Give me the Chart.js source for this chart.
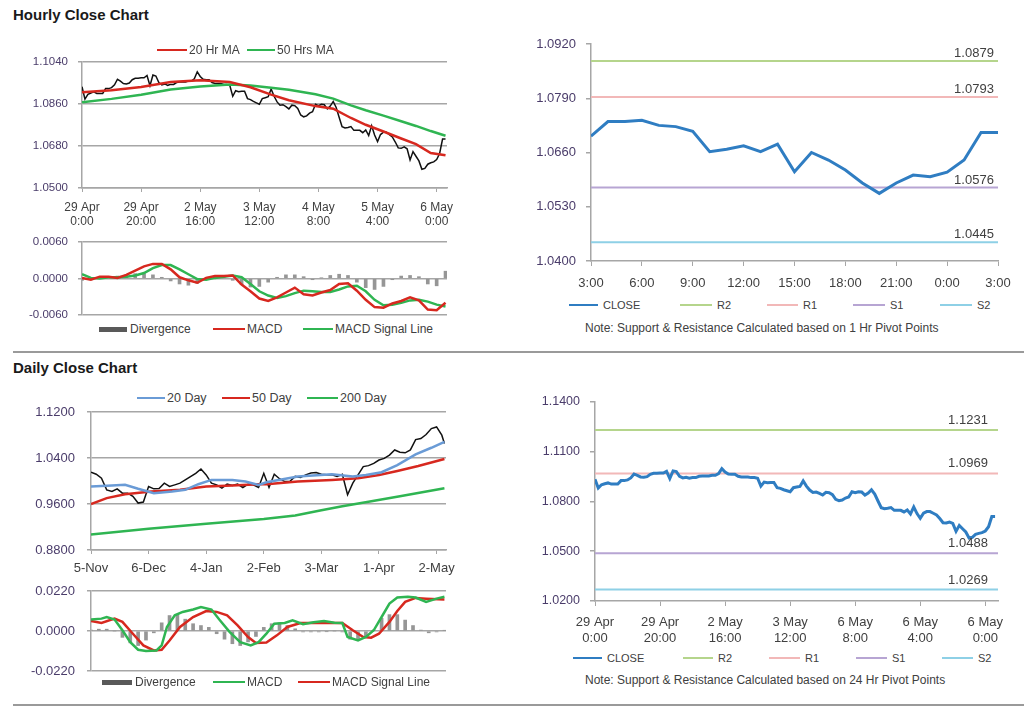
<!DOCTYPE html>
<html>
<head>
<meta charset="utf-8">
<script src="https://cdn.jsdelivr.net/npm/chart.js@4.4.1/dist/chart.umd.min.js"></script>
<style>
body { margin: 0; background: #fff; font-family: "Liberation Sans", Arial, sans-serif; color: #404040; }
#page { position: relative; width: 1024px; height: 706px; overflow: hidden; }
canvas { position: absolute; }
.title { position: absolute; font-weight: bold; font-size: 15px; line-height: 17px; color: #1a1a1a; }
.rule { position: absolute; height: 2px; background: #9a9a9a; }
.leg { position: absolute; font-size: 12px; line-height: 14px; white-space: nowrap; display: flex; align-items: center; }
.leg i { display: inline-block; height: 2px; margin-right: 2px; }
.leg.sm { font-size: 11px; }
.leg.sm i { margin-right: 5px; height: 1.5px; }
.note { position: absolute; font-size: 12px; line-height: 14px; white-space: nowrap; }
</style>
</head>
<body>
<div id="page">
  <div class="title" style="left:13px;top:6px">Hourly Close Chart</div>
  <div class="title" style="left:13px;top:359px">Daily Close Chart</div>
  <div class="rule" style="left:13px;top:351px;width:1011px"></div>
  <div class="rule" style="left:13px;top:704px;width:1011px"></div>

  <canvas id="hourPrice" width="450" height="180" style="left:10px;top:56px"></canvas>
  <canvas id="hourMacd" width="450" height="84" style="left:10px;top:236px"></canvas>
  <canvas id="pivot1" width="495" height="265" style="left:520px;top:30px"></canvas>
  <canvas id="dayPrice" width="450" height="175" style="left:10px;top:405px"></canvas>
  <canvas id="dayMacd" width="450" height="93" style="left:10px;top:583px"></canvas>
  <canvas id="pivot24" width="495" height="255" style="left:520px;top:390px"></canvas>

  <div class="leg" style="left:157px;top:43px"><i style="width:30px;background:#d7281f"></i>20 Hr MA</div>
  <div class="leg" style="left:247px;top:43px"><i style="width:28px;background:#2fb552"></i>50 Hrs MA</div>

  <div class="leg" style="left:99px;top:322px"><i style="width:28px;height:5px;background:#595959;margin-right:3px"></i>Divergence</div>
  <div class="leg" style="left:213px;top:322px"><i style="width:32px;background:#d7281f"></i>MACD</div>
  <div class="leg" style="left:303px;top:322px"><i style="width:30px;background:#2fb552"></i>MACD Signal Line</div>

  <div class="leg sm" style="left:569px;top:298px"><i style="width:29px;height:2.5px;background:#2f7dc2"></i>CLOSE</div>
  <div class="leg sm" style="left:680px;top:298px"><i style="width:32px;background:#b5d58c"></i>R2</div>
  <div class="leg sm" style="left:767px;top:298px"><i style="width:31px;background:#f2b8b8"></i>R1</div>
  <div class="leg sm" style="left:853px;top:298px"><i style="width:32px;background:#b7a5d3"></i>S1</div>
  <div class="leg sm" style="left:940px;top:298px"><i style="width:32px;background:#8ed0e6"></i>S2</div>
  <div class="note" style="left:585px;top:321px">Note: Support &amp; Resistance Calculated based on 1 Hr Pivot Points</div>

  <div class="leg" style="left:137px;top:391px;font-size:12.5px"><i style="width:28px;background:#6a9bd6"></i>20 Day</div>
  <div class="leg" style="left:222px;top:391px;font-size:12.5px"><i style="width:28px;background:#d7281f"></i>50 Day</div>
  <div class="leg" style="left:307px;top:391px;font-size:12.5px"><i style="width:31px;background:#2fb552"></i>200 Day</div>

  <div class="leg" style="left:102px;top:675px"><i style="width:30px;height:5px;background:#595959;margin-right:3px"></i>Divergence</div>
  <div class="leg" style="left:213px;top:675px"><i style="width:32px;background:#2fb552"></i>MACD</div>
  <div class="leg" style="left:298px;top:675px"><i style="width:32px;background:#d7281f"></i>MACD Signal Line</div>

  <div class="leg sm" style="left:573px;top:651px"><i style="width:29px;height:2.5px;background:#2f7dc2"></i>CLOSE</div>
  <div class="leg sm" style="left:683px;top:651px"><i style="width:30px;background:#b5d58c"></i>R2</div>
  <div class="leg sm" style="left:769px;top:651px"><i style="width:31px;background:#f2b8b8"></i>R1</div>
  <div class="leg sm" style="left:856px;top:651px"><i style="width:31px;background:#b7a5d3"></i>S1</div>
  <div class="leg sm" style="left:942px;top:651px"><i style="width:31px;background:#8ed0e6"></i>S2</div>
  <div class="note" style="left:585px;top:673px">Note: Support &amp; Resistance Calculated based on 24 Hr Pivot Points</div>
</div>
<script>
// ---- hourly data (one value per hour, 29 Apr 0:00 onwards)
const hourTicks = [0, 20, 40, 60, 80, 100, 120];
const hourTickLabels = [['29 Apr', '0:00'], ['29 Apr', '20:00'], ['2 May', '16:00'], ['3 May', '12:00'], ['4 May', '8:00'], ['5 May', '4:00'], ['6 May', '0:00']];
const pivot24TickLabels = [['29 Apr', '0:00'], ['29 Apr', '20:00'], ['2 May', '16:00'], ['3 May', '12:00'], ['6 May', '8:00'], ['6 May', '4:00'], ['6 May', '0:00']];

const hourlyClose = [
  1.0934, 1.0881, 1.0901, 1.0907, 1.0912, 1.0905, 1.0905, 1.0905, 1.0926, 1.0926,
  1.0930, 1.0942, 1.0966, 1.0958, 1.0948, 1.0946, 1.0950, 1.0964, 1.0970, 1.0970,
  1.0972, 1.0972, 1.0982, 1.0938, 1.0984, 1.0980, 1.0952, 1.0942, 1.0946, 1.0940,
  1.0944, 1.0944, 1.0952, 1.0954, 1.0954, 1.0954, 1.0958, 1.0958, 1.0968, 1.0998,
  1.0978, 1.0966, 1.0964, 1.0964, 1.0952, 1.0948, 1.0948, 1.0948, 1.0944, 1.0944,
  1.0940, 1.0893, 1.0917, 1.0913, 1.0915, 1.0915, 1.0883, 1.0879, 1.0871, 1.0865,
  1.0859, 1.0883, 1.0887, 1.0891, 1.0924, 1.0893, 1.0869, 1.0855, 1.0857, 1.0849,
  1.0839, 1.0855, 1.0853, 1.0841, 1.0813, 1.0805, 1.0809, 1.0821, 1.0827, 1.0859,
  1.0853, 1.0859, 1.0857, 1.0839, 1.0851, 1.0871, 1.0845, 1.0803, 1.0763, 1.0757,
  1.0759, 1.0763, 1.0747, 1.0747, 1.0747, 1.0737, 1.0749, 1.0725, 1.0767, 1.0727,
  1.0699, 1.0729, 1.0739, 1.0739, 1.0729, 1.0719, 1.0697, 1.0672, 1.0670, 1.0676,
  1.0668, 1.0620, 1.0656, 1.0636, 1.0616, 1.0580, 1.0584, 1.0602, 1.0608, 1.0612,
  1.0622, 1.0648, 1.0710, 1.0710
];

const maHours = [0, 10, 20, 30, 40, 50, 57, 64, 70, 79, 85, 91, 96, 102, 108, 113, 118, 123];
const ma20Hr = [1.0910, 1.0919, 1.0933, 1.0954, 1.0962, 1.0954, 1.0932, 1.0900, 1.0876, 1.0851, 1.0840, 1.0800, 1.0771, 1.0742, 1.0712, 1.0688, 1.0650, 1.0640];
const ma50Hr = [1.0867, 1.0882, 1.0900, 1.0922, 1.0935, 1.0944, 1.0939, 1.0930, 1.0921, 1.0902, 1.0883, 1.0854, 1.0833, 1.0810, 1.0786, 1.0766, 1.0744, 1.0724];

const macdHours = [0, 3, 6, 9, 12, 15, 18, 21, 24, 27, 30, 33, 36, 39, 42, 45, 48, 51, 54, 57, 60, 63, 66, 69, 72, 75, 78, 81, 84, 87, 90, 93, 96, 99, 102, 105, 108, 111, 114, 117, 120, 123];
const macdHourly = [
  0.0001, -0.0002, 0.0003, 0.0003, 0.0001, 0.0006, 0.0013, 0.0020, 0.0024, 0.0024,
  0.0015, 0.0002, -0.0003, -0.0007, 0.0001, 0.0004, 0.0004, 0.0005, -0.0010, -0.0021,
  -0.0033, -0.0037, -0.0031, -0.0023, -0.0015, -0.0026, -0.0028, -0.0023, -0.0019, -0.0009,
  -0.0008, -0.0020, -0.0035, -0.0047, -0.0048, -0.0041, -0.0037, -0.0031, -0.0036, -0.0051,
  -0.0052, -0.0040
];
const signalHourly = [
  0.0007, 0.0001, 0.0000, 0.0002, 0.0002, 0.0003, 0.0005, 0.0009, 0.0017, 0.0022,
  0.0022, 0.0015, 0.0007, -0.0001, -0.0002, 0.0001, 0.0003, 0.0005, 0.0002, -0.0009,
  -0.0021, -0.0028, -0.0032, -0.0029, -0.0024, -0.0020, -0.0021, -0.0022, -0.0022, -0.0018,
  -0.0013, -0.0012, -0.0021, -0.0035, -0.0044, -0.0043, -0.0040, -0.0036, -0.0035, -0.0038,
  -0.0043, -0.0046
];
const divergenceHourly = [
  -0.0003, -0.0002, 0.0002, 0.0002, 0.0004, 0.0006, 0.0008, 0.0008, 0.0006, 0.0002,
  -0.0004, -0.0009, -0.0011, -0.0008, -0.0002, 0.0001, 0.0001, -0.0003, -0.0010, -0.0014,
  -0.0013, -0.0006, 0.0002, 0.0006, 0.0006, 0.0003, -0.0002, 0.0001, 0.0005, 0.0007,
  0.0005, -0.0006, -0.0015, -0.0018, -0.0013, -0.0002, 0.0004, 0.0005, 0.0003, -0.0009,
  -0.0012, 0.0012
];

// ---- last 24 hours with 1 hr pivots
const pivotHourTicks = [0, 3, 6, 9, 12, 15, 18, 21, 24];
const pivotHourLabels = ['3:00', '6:00', '9:00', '12:00', '15:00', '18:00', '21:00', '0:00', '3:00'];
const last24Close = [1.0699, 1.0734, 1.0734, 1.0737, 1.0725, 1.0722, 1.0711, 1.0662, 1.0668, 1.0676, 1.0662, 1.0680, 1.0614,
  1.0660, 1.0642, 1.0618, 1.0587, 1.0562, 1.0587, 1.0606, 1.0602, 1.0613, 1.0642, 1.0708, 1.0708];
const pivotNames = ['R2', 'R1', 'S1', 'S2'];
const pivot1Hr = [1.0879, 1.0793, 1.0576, 1.0445];
const pivot24Hr = [1.1231, 1.0969, 1.0488, 1.0269];

// ---- daily data (x = trading day number from 5-Nov)
const dayTicks = [0, 22, 44, 66, 88, 110, 132];
const dayTickLabels = ['5-Nov', '6-Dec', '4-Jan', '2-Feb', '3-Mar', '1-Apr', '2-May'];
const dayIdx = [0, 2, 4, 6, 8, 10, 12, 14, 16, 18, 20, 22, 24, 26, 28, 30, 32, 34, 36, 38, 40, 42, 44, 46, 48, 50, 52, 54, 56, 58, 60, 62, 64, 66,
  68, 70, 72, 74, 76, 78, 80, 82, 84, 86, 88, 90, 92, 94, 96, 98, 100, 102, 104, 106, 108, 110, 112, 114, 116, 118, 120, 122, 124, 126, 128, 130, 132, 134, 135];
const dailyClose = [
  1.0152, 1.0117, 1.0048, 0.9846, 0.9817, 0.9864, 0.9789, 0.9789, 0.9732, 0.9616, 0.9634, 0.9905, 0.9864, 0.9870, 0.9962, 0.9905, 0.9933,
  0.9962, 1.0020, 1.0077, 1.0134, 1.0209, 1.0106, 0.9962, 0.9933, 0.9876, 0.9945, 0.9922, 0.9945, 0.9887, 0.9945, 0.9933, 0.9887, 1.0134,
  0.9887, 1.0117, 1.0040, 0.9990, 0.9995, 1.0080, 1.0060, 1.0106, 1.0140, 1.0146, 1.0117, 1.0110, 1.0106, 1.0077, 1.0117, 0.9760, 0.9962,
  1.0106, 1.0250, 1.0267, 1.0307, 1.0365, 1.0394, 1.0451, 1.0540, 1.0500, 1.0490, 1.0540, 1.0720, 1.0739, 1.0808, 1.0912, 1.0940, 1.0797, 1.0653
];
const ma20Idx = [0, 8, 13, 18, 24, 31, 36, 41, 46, 54, 59, 64, 67, 79, 92, 100, 105, 111, 117, 124, 130, 135];
const ma20Day = [0.9904, 0.9921, 0.9933, 0.9864, 0.9789, 0.9817, 0.9846, 0.9944, 1.0019, 1.0019, 0.9990, 0.9933, 0.9979, 1.0080, 1.0117, 1.0077, 1.0106, 1.0152, 1.0278, 1.0463, 1.0578, 1.0682];
const ma50Idx = [0, 6, 13, 23, 34, 44, 54, 64, 67, 79, 92, 102, 110, 117, 125, 135];
const ma50Day = [0.9599, 0.9702, 0.9771, 0.9817, 0.9846, 0.9904, 0.9921, 0.9944, 0.9944, 0.9990, 1.0019, 1.0048, 1.0106, 1.0175, 1.0261, 1.0382];
const ma200Idx = [0, 22, 44, 66, 78, 88, 96, 106, 118, 135];
const ma200Day = [0.9070, 0.9170, 0.9255, 0.9340, 0.9400, 0.9490, 0.9560, 0.9640, 0.9735, 0.9875];

const macdDayIdx = [0, 4, 6, 9, 12, 15, 18, 21, 25, 27, 29, 32, 35, 39, 42, 46, 49, 53, 57, 61, 64, 67, 70, 74, 77, 81, 85, 89, 93, 96, 98, 102, 105, 108, 111, 114, 117, 121, 124, 128, 132, 135];
const macdDaily = [
  0.0063, 0.0068, 0.0077, 0.0063, 0.0004, -0.0061, -0.0103, -0.0110, -0.0107, -0.0079,
  0.0022, 0.0086, 0.0105, 0.0118, 0.0132, 0.0118, 0.0063, -0.0006, -0.0061, -0.0079,
  -0.0061, -0.0015, 0.0040, 0.0044, 0.0059, 0.0037, 0.0048, 0.0055, 0.0046, 0.0044,
  -0.0033, -0.0052, -0.0033, 0.0004, 0.0077, 0.0151, 0.0184, 0.0188, 0.0184, 0.0160,
  0.0178, 0.0188
];
const signalDayIdx = [0, 4, 9, 12, 16, 20, 24, 27, 30, 34, 39, 44, 48, 52, 56, 60, 63, 67, 71, 75, 80, 86, 93, 96, 100, 104, 107, 110, 114, 117, 120, 124, 128, 135];
const signalDaily = [
  0.0055, 0.0044, 0.0068, 0.0050, -0.0015, -0.0079, -0.0107, -0.0103, -0.0052, 0.0022,
  0.0077, 0.0110, 0.0105, 0.0086, 0.0031, -0.0033, -0.0066, -0.0063, -0.0024, 0.0022,
  0.0044, 0.0044, 0.0044, 0.0044, 0.0004, -0.0033, -0.0037, -0.0015, 0.0050, 0.0110,
  0.0160, 0.0182, 0.0178, 0.0173
];
const divDayIdx = [0, 3, 6, 9, 12, 15, 18, 21, 24, 27, 30, 33, 36, 39, 42, 45, 48, 51, 54, 57, 60, 63, 66, 69, 72, 75, 78, 81, 84, 87,
  90, 93, 96, 99, 102, 105, 108, 111, 114, 117, 120, 123, 126, 129, 132, 135];
const divergenceDaily = [
  0.0005, 0.0010, 0.0010, 0.0000, -0.0035, -0.0065, -0.0080, -0.0050, -0.0010, 0.0045,
  0.0085, 0.0090, 0.0065, 0.0040, 0.0030, 0.0020, -0.0015, -0.0045, -0.0070, -0.0080,
  -0.0060, -0.0030, 0.0020, 0.0040, 0.0045, 0.0030, 0.0012, -0.0005, -0.0005, -0.0005,
  -0.0003, 0.0000, -0.0005, -0.0045, -0.0050, -0.0030, 0.0005, 0.0070, 0.0090, 0.0090,
  0.0060, 0.0030, 0.0005, -0.0010, -0.0005, 0.0003
];

// ---- styling
const FONT = '"Liberation Sans", Arial, sans-serif';
const GRID = '#a6a6a6';
const RED = '#d7281f', GREEN = '#2fb552', BLUE = '#2f7dc2', LIGHTBLUE = '#6a9bd6';
const pivotColors = ['#b5d58c', '#f2b8b8', '#b7a5d3', '#8ed0e6'];

function pts(xs, ys) {
  return ys.map((y, i) => ({ x: xs[i], y: y }));
}
function line(data, color, width) {
  return { type: 'line', data: data, borderColor: color, borderWidth: width, pointRadius: 0, tension: 0, fill: false };
}
function bars(data) {
  return { type: 'bar', data: data, backgroundColor: '#969696', barThickness: 3, order: 5 };
}

// axes get a fixed size and no automatic label padding, so the plot boxes land where the picture has them
function yAxis(min, max, ticks, width, size, tl, pad, onArea) {
  return {
    type: 'linear', min: min, max: max,
    afterBuildTicks: s => { s.ticks = ticks.map(v => ({ value: v })); },
    afterFit: s => { s.width = width; s.paddingTop = 0; s.paddingBottom = 0; },
    ticks: { color: '#4a3c6a', font: { family: FONT, size: size }, padding: pad, callback: v => v.toFixed(4) },
    grid: { color: GRID, tickColor: GRID, tickLength: tl, drawOnChartArea: onArea, lineWidth: 1.5 },
    border: { color: GRID, width: 1.5 }
  };
}
function xAxis(min, max, ticks, labels, height, size, tl, pad, lh) {
  return {
    type: 'linear', min: min, max: max, offset: false,
    afterBuildTicks: s => { s.ticks = ticks.map(v => ({ value: v })); },
    afterFit: s => { s.height = height; s.paddingLeft = 0; s.paddingRight = 0; },
    ticks: { color: '#404040', font: { family: FONT, size: size, lineHeight: lh }, padding: pad,
      autoSkip: false, maxRotation: 0, callback: (v, i) => labels[i] },
    grid: { color: GRID, tickColor: GRID, tickLength: tl, drawOnChartArea: false, offset: false },
    border: { color: GRID, width: 1.5 }
  };
}
function hiddenX(min, max) {
  return { type: 'linear', min: min, max: max, display: false, offset: false, grid: { offset: false } };
}

// text above each support / resistance line
const levelLabels = {
  id: 'levelLabels',
  afterDatasetsDraw(chart, args, opts) {
    if (!opts || !opts.values) return;
    const ctx = chart.ctx;
    ctx.save();
    ctx.font = '13px ' + FONT;
    ctx.fillStyle = '#404040';
    ctx.textAlign = 'center';
    ctx.textBaseline = 'alphabetic';
    opts.values.forEach(v => {
      ctx.fillText(v.toFixed(4), chart.chartArea.right - opts.dx, chart.scales.y.getPixelForValue(v) - opts.dy);
    });
    ctx.restore();
  }
};

function base(pad, scales, labels) {
  const plugins = { legend: { display: false }, tooltip: { enabled: false } };
  if (labels) plugins.levelLabels = labels;
  return {
    responsive: false, animation: false, devicePixelRatio: 1, events: [],
    layout: { padding: pad, autoPadding: false },
    plugins: plugins,
    scales: scales
  };
}

// Hourly close with moving averages
new Chart(document.getElementById('hourPrice'), {
  type: 'line',
  data: { datasets: [
    line(pts(maHours, ma20Hr), RED, 2.5),
    line(pts(maHours, ma50Hr), GREEN, 2.5),
    line(hourlyClose.map((y, i) => ({ x: i, y: y })), '#111111', 1.5)
  ] },
  options: base({ left: 0, right: 13, top: 6, bottom: 0 }, {
    x: xAxis(0, 123.5, hourTicks, hourTickLabels, 48, 12, 4, 9, 1.15),
    y: yAxis(1.05, 1.104, [1.05, 1.068, 1.086, 1.104], 72, 11.5, 4, 10, true)
  })
});

// Hourly MACD
new Chart(document.getElementById('hourMacd'), {
  type: 'line',
  data: { datasets: [
    line(pts(macdHours, macdHourly), RED, 2.5),
    line(pts(macdHours, signalHourly), GREEN, 2.5),
    bars(pts(macdHours, divergenceHourly))
  ] },
  options: base({ left: 0, right: 13, top: 6, bottom: 5 }, {
    x: hiddenX(0, 123.5),
    y: yAxis(-0.006, 0.006, [-0.006, 0, 0.006], 72, 11.5, 4, 10, true)
  })
});

// Last 24 hours, 1 hr pivots
new Chart(document.getElementById('pivot1'), {
  type: 'line',
  data: { datasets: [line(last24Close.map((y, i) => ({ x: i, y: y })), BLUE, 3)].concat(
    pivot1Hr.map((v, k) => Object.assign(line([{ x: 0, y: v }, { x: 24, y: v }], pivotColors[k], 2), { label: pivotNames[k] })))
  },
  options: base({ left: 0, right: 17, top: 14, bottom: 0 }, {
    x: xAxis(0, 24, pivotHourTicks, pivotHourLabels, 34, 13, 5, 10, 1.2),
    y: yAxis(1.04, 1.092, [1.04, 1.053, 1.066, 1.079, 1.092], 71, 13, 5, 10, false)
  }, { values: pivot1Hr, dx: 24, dy: 4 }),
  plugins: [levelLabels]
});

// Daily close with moving averages
new Chart(document.getElementById('dayPrice'), {
  type: 'line',
  data: { datasets: [
    line(pts(ma20Idx, ma20Day), LIGHTBLUE, 2.5),
    line(pts(ma50Idx, ma50Day), RED, 2.5),
    line(pts(ma200Idx, ma200Day), GREEN, 2.5),
    line(pts(dayIdx, dailyClose), '#111111', 1.5)
  ] },
  options: base({ left: 0, right: 14, top: 7, bottom: 0 }, {
    x: xAxis(0, 135.6, dayTicks, dayTickLabels, 30, 13, 4, 6.5, 1.2),
    y: yAxis(0.88, 1.12, [0.88, 0.96, 1.04, 1.12], 81, 13, 4, 12, true)
  })
});

// Daily MACD
new Chart(document.getElementById('dayMacd'), {
  type: 'line',
  data: { datasets: [
    line(pts(macdDayIdx, macdDaily), GREEN, 2.5),
    line(pts(signalDayIdx, signalDaily), RED, 2.5),
    bars(pts(divDayIdx, divergenceDaily))
  ] },
  options: base({ left: 0, right: 14, top: 8, bottom: 5 }, {
    x: hiddenX(0, 135.6),
    y: yAxis(-0.022, 0.022, [-0.022, 0, 0.022], 81, 13, 4, 12, true)
  })
});

// Hourly close, 24 hr pivots
new Chart(document.getElementById('pivot24'), {
  type: 'line',
  data: { datasets: [line(hourlyClose.map((y, i) => ({ x: i, y: y })), BLUE, 3)].concat(
    pivot24Hr.map((v, k) => Object.assign(line([{ x: 0, y: v }, { x: 123.9, y: v }], pivotColors[k], 2), { label: pivotNames[k] })))
  },
  options: base({ left: 0, right: 17, top: 12, bottom: 0 }, {
    x: xAxis(0, 123.9, hourTicks, pivot24TickLabels, 44, 13, 5, 9, 1.2),
    y: yAxis(1.02, 1.14, [1.02, 1.05, 1.08, 1.11, 1.14], 75, 12.5, 5, 10, false)
  }, { values: pivot24Hr, dx: 30, dy: 6 }),
  plugins: [levelLabels]
});
</script>
</body>
</html>
